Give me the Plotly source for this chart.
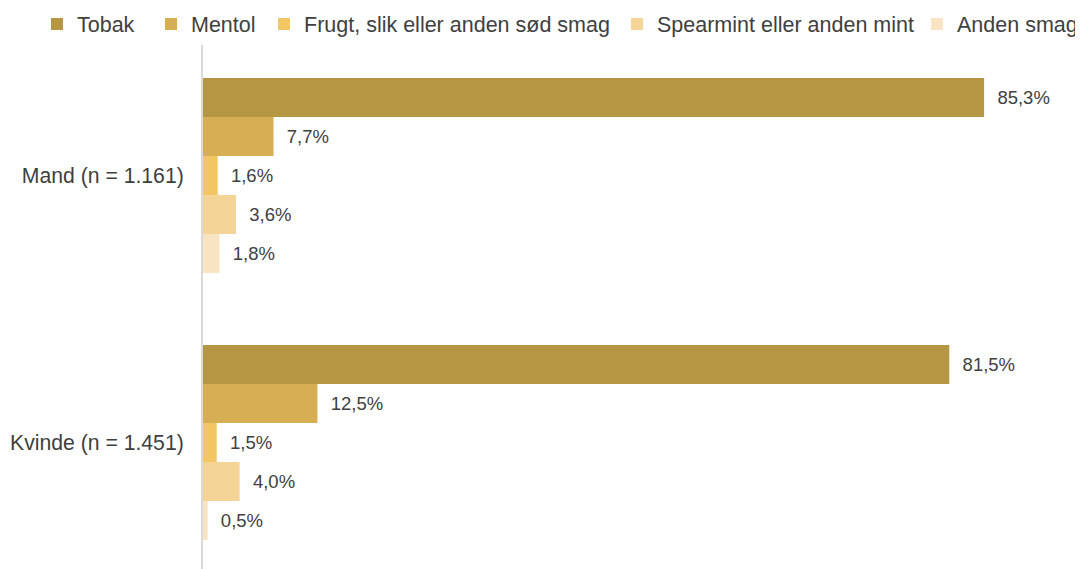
import plotly.graph_objects as go

categories = ["Mand (n = 1.161)", "Kvinde (n = 1.451)"]
series_names = ["Tobak", "Mentol", "Frugt, slik eller anden sød smag",
                "Spearmint eller anden mint", "Anden smag"]
tobak = [85.3, 81.5]
mentol = [7.7, 12.5]
frugt = [1.6, 1.5]
spearmint = [3.6, 4.0]
anden = [1.8, 0.5]
colors = ["#B59643", "#D6AF55", "#F1C663", "#F5D497", "#F8E4C3"]

values = [tobak, mentol, frugt, spearmint, anden]
legend_ids = ["legend", "legend2", "legend3", "legend4", "legend5"]
legend_x = [29, 143, 256, 609, None]  # left edge of each legend entry, px

W, H = 1075, 561

fig = go.Figure()
for name, vals, col, lid in zip(series_names, values, colors, legend_ids):
    fig.add_trace(go.Bar(
        y=categories, x=vals, name=name, orientation="h",
        marker=dict(color=col, line=dict(width=0)),
        text=["\u00a0\u00a0" + f"{v:.1f}".replace(".", ",") + "%" for v in vals],
        textposition="outside", cliponaxis=False,
        textfont=dict(family="Liberation Sans, Arial", size=18.5, color="#404040"),
        legend=lid,
    ))

legend_common = dict(orientation="h", xref="container", xanchor="left",
                     y=1.0 - 16 / H, yref="container", yanchor="middle",
                     font=dict(size=21.5, color="#404040"), itemwidth=30,
                     bgcolor="rgba(0,0,0,0)", borderwidth=0)
legends = {}
for lid, lx in zip(legend_ids, legend_x):
    if lx is None:
        legends[lid] = dict(legend_common, x=1.0, xanchor="right")
    else:
        legends[lid] = dict(legend_common, x=lx / W)

fig.update_layout(
    width=W, height=H,
    barmode="group", bargap=0.27, bargroupgap=0,
    plot_bgcolor="white", paper_bgcolor="white",
    margin=dict(l=195, r=0, t=37, b=0, autoexpand=False),
    font=dict(family="Liberation Sans, Arial", size=18, color="#404040"),
    showlegend=True,
    xaxis=dict(range=[0, 96.1], visible=False),
    yaxis=dict(categoryorder="array", categoryarray=categories,
               range=[1.4738, -0.4888], showline=True, linecolor="#D9D9D9",
               linewidth=2, ticks="", showgrid=False, ticklabelstandoff=13,
               tickfont=dict(size=21.2, color="#404040")),
    **legends,
)

fig.write_html("out.html")
